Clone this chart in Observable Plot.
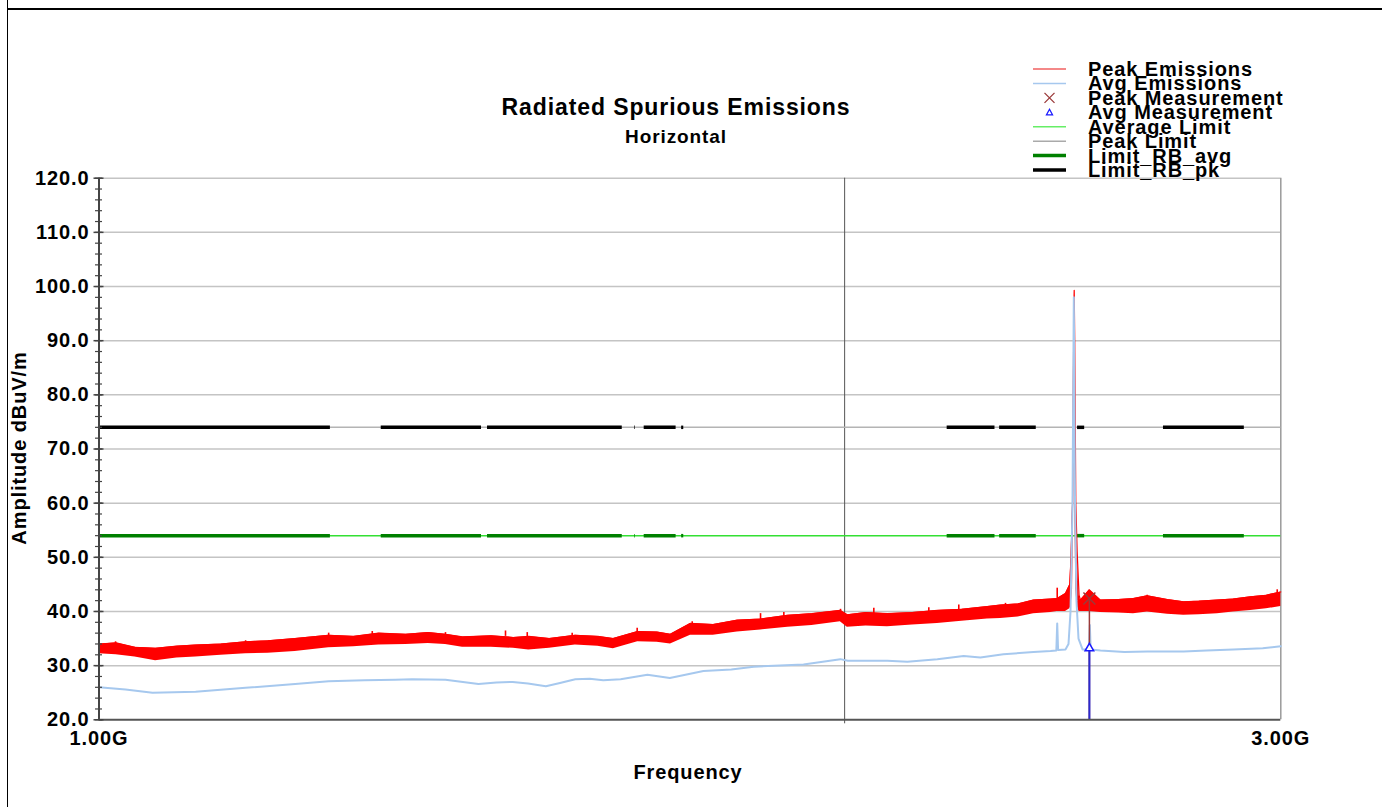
<!DOCTYPE html>
<html>
<head>
<meta charset="utf-8">
<script src="https://cdn.jsdelivr.net/npm/d3@7"></script>
<script src="https://cdn.jsdelivr.net/npm/@observablehq/plot@0.6"></script>
<style>
  html, body { margin: 0; padding: 0; background: #fff; }
  #wrap { position: relative; width: 1382px; height: 807px; overflow: hidden; background: #fff; }
  #wrap svg text { letter-spacing: 0.9px; }
  #overlay { position: absolute; left: 0; top: 0; pointer-events: none; }
  .frameTop { position: absolute; left: 7px; top: 8px; width: 1375px; height: 2px; background: #000; }
  .frameLeft { position: absolute; left: 7px; top: 0; width: 1px; height: 807px; background: #000; }
</style>
</head>
<body>
<div id="wrap">
  <div class="frameTop"></div>
  <div class="frameLeft"></div>
</div>
<script>
// ---------- data (frequency in GHz, level in dBuV/m) ----------
const peakFreq = [1.000,1.016,1.034,1.054,1.075,1.094,1.12,1.146,1.17,1.20,1.238,1.267,1.297,1.33,1.358,1.38,1.402,1.44,1.47,1.491,1.52,1.557,1.59,1.613,1.65,1.68,1.701,1.733,1.77,1.81,1.85,1.897,1.94,1.992,2.005,2.04,2.081,2.13,2.18,2.23,2.284,2.312,2.35,2.384,2.422,2.437,2.4558,2.4657,2.4685,2.472,2.4745,2.4758,2.477,2.4795,2.4826,2.487,2.4903,2.511,2.537,2.58,2.616,2.65,2.70,2.741,2.78,2.828,2.87,2.917,2.96,3.000];
const peakHi   = [34.0,34.2,33.4,33.2,33.6,33.8,34.0,34.4,34.6,35.0,35.6,35.4,36.0,35.8,36.1,35.8,35.3,35.5,35.2,35.4,35.0,35.6,35.4,35.0,36.3,36.2,35.8,37.8,37.6,38.4,38.6,39.3,39.6,40.2,39.4,39.8,39.6,39.8,40.2,40.4,40.9,41.2,41.4,42.1,42.3,42.4,43.3,45.0,50.1,60.0,90.0,99.3,90.0,60.0,51.0,43.0,42.1,44.0,42.1,42.2,42.4,42.9,42.2,41.8,41.9,42.1,42.3,42.7,43.0,43.6];
const peakLo   = [32.2,32.0,31.6,30.9,31.4,31.6,31.9,32.2,32.3,32.6,33.3,33.5,33.8,33.9,34.1,33.9,33.4,33.4,33.2,32.9,33.2,33.8,33.6,33.1,34.4,34.3,34.0,35.6,35.6,36.2,36.6,37.1,37.4,38.1,37.1,37.3,37.2,37.5,37.8,38.2,38.6,38.7,39.0,39.6,39.8,40.0,40.0,40.5,41.0,44.0,60.0,94.0,60.0,44.0,41.0,40.0,40.0,40.0,39.8,39.7,39.6,39.9,39.5,39.3,39.4,39.6,39.9,40.2,40.5,40.9];

// individual noise spikes of the peak trace
const spikeFreq = [1.0155,1.146,1.238,1.2892,1.380,1.4592,1.489,1.5525,1.6492,1.7358,1.8496,1.8901,1.9924,2.055,2.1628,2.2239,2.3226,2.392,2.4106,2.437,2.6496,2.990];
const spikeBase = [33.8,34.2,35.4,35.4,35.6,35.4,35.3,35.4,36.0,37.4,38.5,39.0,39.8,39.6,39.8,40.3,40.8,41.6,41.8,42.3,42.2,43.0];
const spikeTop  = [34.4,34.6,36.0,36.3,36.1,36.4,36.1,36.0,36.9,38.1,39.6,39.8,40.4,40.6,40.7,41.2,41.5,42.0,42.1,44.3,43.0,44.0];

const avgFreq  = [1.000,1.025,1.051,1.094,1.146,1.20,1.238,1.28,1.317,1.338,1.38,1.423,1.447,1.469,1.49,1.515,1.535,1.557,1.578,1.598,1.624,1.665,1.70,1.754,1.80,1.838,1.925,1.992,2.006,2.081,2.12,2.18,2.234,2.269,2.318,2.384,2.422,2.435,2.437,2.439,2.4558,2.4627,2.4673,2.4719,2.4749,2.4777,2.481,2.4857,2.495,2.510,2.512,2.514,2.537,2.594,2.65,2.741,2.80,2.871,2.95,3.000];
const avgLevel = [26.0,25.6,25.0,25.2,25.9,26.6,27.1,27.3,27.4,27.5,27.4,26.6,26.9,27.0,26.7,26.2,26.8,27.5,27.6,27.3,27.5,28.3,27.7,29.0,29.3,29.8,30.2,31.2,30.9,30.9,30.7,31.2,31.8,31.5,32.1,32.5,32.7,32.8,37.8,32.9,33.0,34.0,40.0,60.0,98.0,60.0,42.0,35.0,33.0,33.0,37.5,33.0,32.8,32.5,32.6,32.6,32.8,33.0,33.2,33.6];

// restricted bands
const rbStart = [1.000,1.300,1.435,1.6455,1.660,1.7188,2.200,2.310,2.4835,2.690];
const rbEnd   = [1.240,1.427,1.6265,1.6465,1.710,1.7222,2.300,2.390,2.500,2.900];
const peakLimit = [74];
const avgLimit  = [54];

// final measurements
const measFreq = [2.511];
const measPeak = [42.4];
const measAvg  = [33.2];

// axes
const yMajor = [20,30,40,50,60,70,80,90,100,110,120];
const yMinor = d3.range(20, 121, 2);
const yGrid  = [30,40,50,60,70,80,90,100,110,120];
const xLabelTicks = [1, 3];
const xLabels = ["1.00G", "3.00G"];
const xGrid = [2];

const legendNames = ["Peak Emissions","Avg Emissions","Peak Measurement","Avg Measurement","Average Limit","Peak Limit","Limit_RB_avg","Limit_RB_pk"];

// ---------- tables ----------
const peakData = peakFreq.map((f, i) => ({f, hi: peakHi[i], lo: peakLo[i]}));
const spikes = spikeFreq.map((f, i) => ({f, b: spikeBase[i], t: spikeTop[i]}));
const avgData = avgFreq.map((f, i) => ({f, v: avgLevel[i]}));
const bands = rbStart.map((s, i) => ({s, e: rbEnd[i]}));
const meas = measFreq.map((f, i) => ({f, pk: measPeak[i], av: measAvg[i]}));

const plot = Plot.plot({
  width: 1382,
  height: 807,
  marginLeft: 98.5,
  marginRight: 101.7,
  marginTop: 177.7,
  marginBottom: 87.7,
  x: {type: "log", domain: [1, 3]},
  y: {domain: [20, 120]},
  style: {fontFamily: "'Liberation Sans', Arial, sans-serif", fontSize: "20px", fontWeight: "bold", color: "#000", background: "transparent", overflow: "visible"},
  marks: [
    Plot.ruleY(yGrid, {stroke: "#c4c4c4", strokeWidth: 1.5}),
    Plot.ruleX(xGrid, {stroke: "#555", strokeWidth: 1}),
    Plot.ruleX([3], {stroke: "#9a9a9a", strokeWidth: 1.5}),
    Plot.ruleY(peakLimit, {stroke: "#b4b4b4", strokeWidth: 1.5}),
    Plot.ruleY(avgLimit, {stroke: "#33e033", strokeWidth: 1.5}),
    Plot.ruleY(bands, {x1: "s", x2: "e", y: () => avgLimit[0], stroke: "#008000", strokeWidth: 3.5}),
    Plot.ruleY(bands, {x1: "s", x2: "e", y: () => peakLimit[0], stroke: "#000", strokeWidth: 3.5}),
    Plot.areaY(peakData, {x: "f", y1: "lo", y2: "hi", fill: "#ff0000", curve: "linear"}),
    Plot.line(peakData, {x: "f", y: "hi", stroke: "#ff0000", strokeWidth: 1.2}),
    Plot.ruleX(spikes, {x: "f", y1: "b", y2: "t", stroke: "#ff0000", strokeWidth: 1.6}),
    Plot.line(avgData, {x: "f", y: "v", stroke: "#a6c8ee", strokeWidth: 2}),
    Plot.ruleX(meas, {x: "f", y1: 20, y2: "pk", stroke: "#9b3a3a", strokeWidth: 1.5}),
    Plot.ruleX(meas, {x: "f", y1: 20, y2: "av", stroke: "#2a2ad0", strokeWidth: 2}),
    Plot.dot(meas, {x: "f", y: "pk", symbol: "times", r: 5.5, stroke: "#9b3a3a", strokeWidth: 1.5}),
    Plot.dot(meas, {x: "f", y: "av", symbol: "triangle", r: 3.2, stroke: "#1a1aff", fill: "#fff", strokeWidth: 1.5}),
    // axis lines
    Plot.ruleX([1], {stroke: "#444", strokeWidth: 2}),
    Plot.ruleY([20], {stroke: "#555", strokeWidth: 2}),
    // y axis ticks (crossing the axis) and labels
    Plot.axisY({ticks: yMinor, tickSize: 7, dx: 3.5, tickFormat: () => "", stroke: "#444", strokeWidth: 1.2, label: null}),
    Plot.axisY({ticks: yMajor, tickSize: 10, dx: 5, tickFormat: () => "", stroke: "#444", strokeWidth: 1.5, label: null}),
    Plot.axisY({ticks: yMajor, tickSize: 0, tickPadding: 9.5, tickFormat: d => d.toFixed(1), label: null}),
    // x axis
    Plot.axisX({ticks: xGrid, tickSize: 4, tickFormat: () => "", stroke: "#555", label: null}),
    Plot.axisX({ticks: xLabelTicks, tickSize: 0, tickPadding: 11, tickFormat: d => xLabels[xLabelTicks.indexOf(d)], label: null})
  ]
});
plot.style.position = "absolute";
plot.style.left = "0px";
plot.style.top = "0px";
const wrap = document.getElementById("wrap");
wrap.appendChild(plot);

// ---------- title, axis titles, legend ----------
const ov = d3.select(wrap).append("svg")
  .attr("id", "overlay")
  .attr("width", 1382).attr("height", 807)
  .style("font-family", "'Liberation Sans', Arial, sans-serif")
  .style("font-weight", "bold");

ov.append("text").attr("x", 676).attr("y", 115).attr("text-anchor", "middle")
  .attr("font-size", 23).text("Radiated Spurious Emissions");
ov.append("text").attr("x", 676).attr("y", 143).attr("text-anchor", "middle")
  .attr("font-size", 19).text("Horizontal");
ov.append("text").attr("x", 688).attr("y", 779).attr("text-anchor", "middle")
  .attr("font-size", 20).text("Frequency");
ov.append("text").attr("transform", "translate(26,448) rotate(-90)").attr("text-anchor", "middle")
  .attr("font-size", 20).text("Amplitude dBuV/m");

const legendStyles = [
  {type: "line", stroke: "#f06060", w: 1.5},
  {type: "line", stroke: "#a6c8ee", w: 1.5},
  {type: "times", stroke: "#9b3a3a"},
  {type: "tri", stroke: "#1a1aff"},
  {type: "line", stroke: "#66ee66", w: 1.5},
  {type: "line", stroke: "#aaaaaa", w: 1.5},
  {type: "line", stroke: "#008000", w: 3.5},
  {type: "line", stroke: "#000000", w: 3.5}
];
legendNames.forEach((name, i) => {
  const cy = 69 + i * 14.43;
  const st = legendStyles[i];
  if (st.type === "line") {
    ov.append("line").attr("x1", 1033).attr("x2", 1066).attr("y1", cy).attr("y2", cy)
      .attr("stroke", st.stroke).attr("stroke-width", st.w);
  } else if (st.type === "times") {
    ov.append("path").attr("d", `M${1049.5-5},${cy-5}L${1049.5+5},${cy+5}M${1049.5-5},${cy+5}L${1049.5+5},${cy-5}`)
      .attr("stroke", st.stroke).attr("stroke-width", 1.3).attr("fill", "none");
  } else {
    ov.append("path").attr("d", `M1049.5,${cy-3}L${1049.5+3},${cy+2.5}L${1049.5-3},${cy+2.5}Z`)
      .attr("stroke", st.stroke).attr("stroke-width", 1.3).attr("fill", "#fff");
  }
  ov.append("text").attr("x", 1088).attr("y", cy + 7).attr("font-size", 20).text(name);
});
</script>
</body>
</html>
